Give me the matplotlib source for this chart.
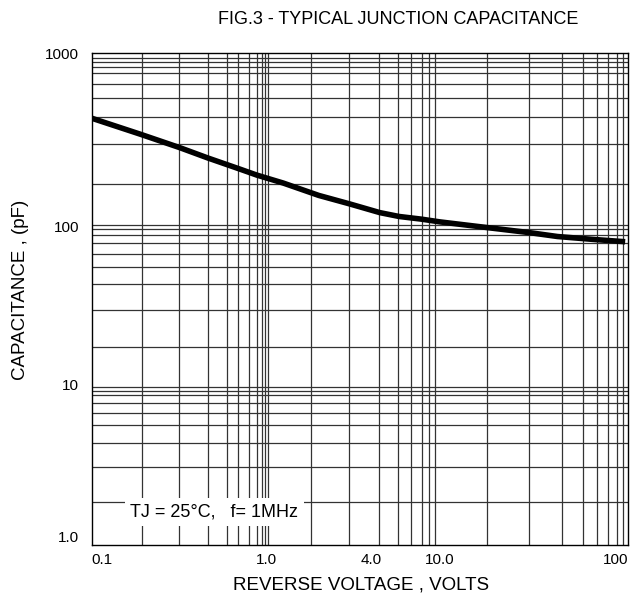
import numpy as np
import matplotlib
matplotlib.use("Agg")
import matplotlib.pyplot as plt
from matplotlib.ticker import FixedLocator, FixedFormatter

plt.rcParams['font.family'] = ['Liberation Sans', 'DejaVu Sans']

# === Data ===
voltage = [0.1, 0.19, 0.32, 0.46, 0.69, 0.88, 1.25, 2.0, 3.0, 4.5,
           5.8, 7.8, 10, 18, 30, 42, 64, 96]                # V
capacitance = [423, 342, 286, 250, 217, 199, 179, 152, 136, 121,
               115, 111, 107, 99, 92, 87, 83.5, 80.6]       # pF

# grid lines of the printed chart (decades are not equally wide on the sheet)
x_grid = [0.193, 0.316, 0.465, 0.592, 0.69, 0.794, 0.879, 0.946, 0.979,
          1.016, 1.8, 3.0, 4.47, 5.75, 6.8, 7.84, 8.68, 9.36, 10,
          17.7, 29.6, 44.4, 57.1, 67.9, 78.3, 86.8, 93.3]
y_grid = [1.84, 3.05, 4.31, 5.56, 6.66, 7.7, 8.58, 9.12, 9.58, 10,
          17.3, 29.7, 43.4, 55.7, 67.8, 78.8, 88.5, 96.7, 102.7,
          177, 301, 428, 555, 670, 773, 837, 888, 936]

x_ticks = [0.1, 1, 4, 10, 100]
x_labels = ['0.1', '1.0', '4.0', '10.0', '100']
y_ticks = [1, 10, 100, 1000]
y_labels = ['1.0', '10', '100', '1000']


# === piecewise log axis: each decade gets its own width like on the sheet ===
def sheet_scale(decades, widths):
    d = np.asarray(decades, float)
    p = np.concatenate([[0], np.cumsum(widths)])
    # extend far out on both sides so the transform stays invertible
    d = np.concatenate([[d[0] - 30], d, [d[-1] + 30]])
    p = np.concatenate([[p[0] - 30 * widths[0]], p, [p[-1] + 30 * widths[-1]]])

    def fwd(v):
        v = np.asarray(v, float)
        lv = np.log10(np.where(v > 0, v, 1e-40))
        return np.interp(lv, d, p)

    def inv(u):
        return 10 ** np.interp(u, p, d)
    return fwd, inv


x_fwd, x_inv = sheet_scale([-1, 0, 1, 2], [174.8, 173.5, 188.5])
y_fwd, y_inv = sheet_scale([0, 1, 2, 3], [160.7, 157.3, 173.7])

# === Plotting ===
fig = plt.figure(figsize=(6.3, 5.95), dpi=100)
ax = fig.add_axes([91.7 / 630, 50 / 595, 536.8 / 630, 491.7 / 595])
ax.set_xscale('function', functions=(x_fwd, x_inv))
ax.set_yscale('function', functions=(y_fwd, y_inv))
ax.set_xlim(0.1, 100)
ax.set_ylim(1, 1000)

ax.xaxis.set_major_locator(FixedLocator(x_ticks))
ax.xaxis.set_major_formatter(FixedFormatter(x_labels))
ax.yaxis.set_major_locator(FixedLocator(y_ticks))
ax.yaxis.set_major_formatter(FixedFormatter(y_labels))
ax.xaxis.set_minor_locator(FixedLocator(x_grid))
ax.yaxis.set_minor_locator(FixedLocator(y_grid))

ax.grid(False, which='major')
ax.grid(True, which='minor', color='#333333', linewidth=0.9)
ax.tick_params(which='both', length=0)
ax.tick_params(axis='x', pad=6, labelsize=11)
ax.tick_params(axis='y', pad=9, labelsize=11)
xt = ax.get_xticklabels()
xt[0].set_ha('left')
xt[-1].set_ha('right')
ax.get_yticklabels()[0].set_va('bottom')

for s in ax.spines.values():
    s.set_linewidth(1.0)
    s.set_color('black')

ax.plot(voltage, capacitance, color='black', linewidth=4,
        solid_joinstyle='round', solid_capstyle='butt', zorder=4)

ax.text(0.228, 0.067, 'TJ = 25\u00b0C,   f= 1MHz', transform=ax.transAxes,
        ha='center', va='center', fontsize=13, zorder=5,
        bbox=dict(boxstyle='square,pad=0.3', facecolor='white', edgecolor='none'))

fig.text(398 / 630, 1 - 20 / 595, 'FIG.3 - TYPICAL JUNCTION CAPACITANCE',
         ha='center', va='center', fontsize=13)
fig.text(361 / 630, 1 - 585 / 595, 'REVERSE VOLTAGE , VOLTS',
         ha='center', va='center', fontsize=13.5)
fig.text(21 / 630, 1 - 290 / 595, 'CAPACITANCE , (pF)', rotation=90,
         ha='center', va='center', fontsize=13.5)

fig.savefig('out.png', dpi=100)
